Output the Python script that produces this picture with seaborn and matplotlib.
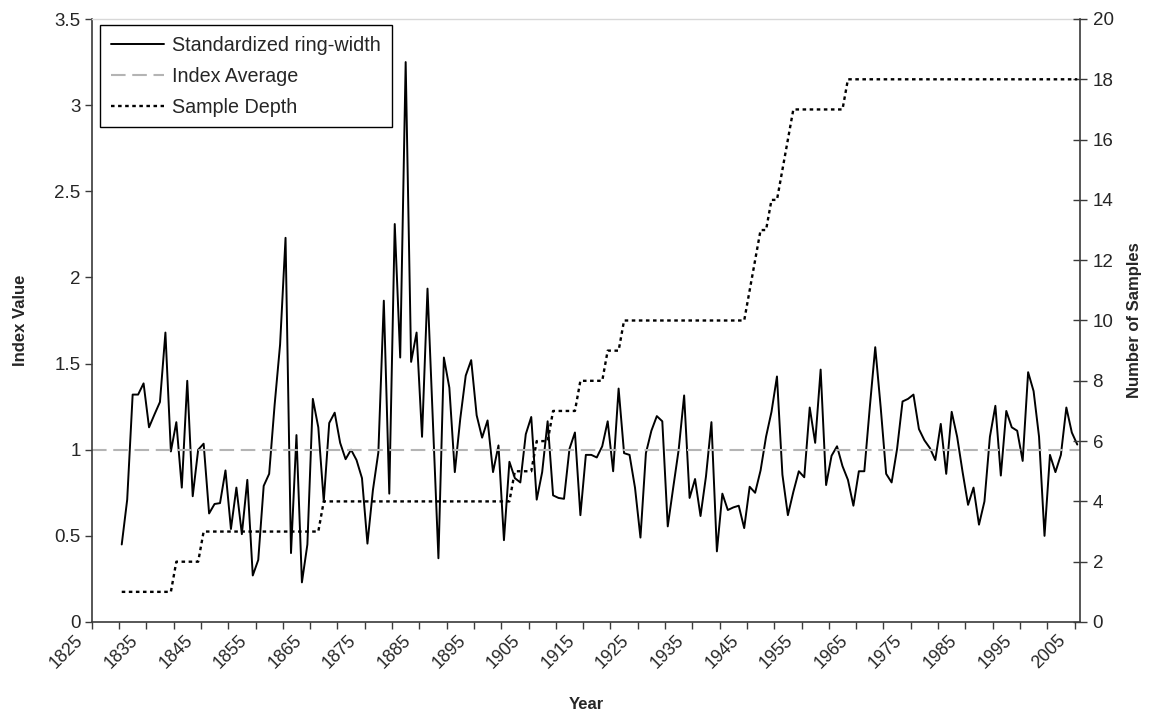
import numpy as np
import pandas as pd
import matplotlib
matplotlib.use("Agg")
import matplotlib.pyplot as plt
import matplotlib.transforms as mtransforms
import seaborn as sns

# Annual values, 1830-2005
years = list(range(1830, 2006))

ring_width = [
    # 1830s
    0.45, 0.71, 1.32, 1.32, 1.385, 1.13, 1.205, 1.277, 1.68, 0.99,
    # 1840s
    1.16, 0.78, 1.40, 0.73, 1.00, 1.035, 0.63, 0.685, 0.69, 0.88,
    # 1850s
    0.54, 0.78, 0.51, 0.825, 0.27, 0.36, 0.79, 0.86, 1.26, 1.61,
    # 1860s
    2.23, 0.40, 1.085, 0.23, 0.45, 1.295, 1.13, 0.70, 1.155, 1.215,
    # 1870s
    1.04, 0.945, 1.00, 0.94, 0.835, 0.455, 0.765, 0.985, 1.865, 0.745,
    # 1880s
    2.31, 1.535, 3.25, 1.51, 1.68, 1.075, 1.935, 1.15, 0.37, 1.535,
    # 1890s
    1.36, 0.87, 1.18, 1.43, 1.52, 1.20, 1.07, 1.17, 0.87, 1.025,
    # 1900s
    0.475, 0.93, 0.835, 0.81, 1.09, 1.19, 0.71, 0.87, 1.165, 0.735,
    # 1910s
    0.72, 0.715, 1.005, 1.10, 0.62, 0.97, 0.97, 0.955, 1.02, 1.165,
    # 1920s
    0.875, 1.355, 0.98, 0.97, 0.78, 0.49, 0.98, 1.11, 1.195, 1.165,
    # 1930s
    0.555, 0.78, 1.00, 1.315, 0.72, 0.83, 0.615, 0.845, 1.16, 0.41,
    # 1940s
    0.745, 0.65, 0.665, 0.675, 0.545, 0.785, 0.75, 0.88, 1.075, 1.22,
    # 1950s
    1.425, 0.855, 0.62, 0.755, 0.875, 0.84, 1.245, 1.04, 1.465, 0.795,
    # 1960s
    0.965, 1.02, 0.905, 0.825, 0.675, 0.875, 0.875, 1.245, 1.595, 1.245,
    # 1970s
    0.86, 0.81, 1.005, 1.28, 1.295, 1.32, 1.12, 1.055, 1.01, 0.94,
    # 1980s
    1.15, 0.86, 1.22, 1.075, 0.87, 0.68, 0.78, 0.565, 0.70, 1.075,
    # 1990s
    1.255, 0.85, 1.225, 1.13, 1.11, 0.935, 1.45, 1.34, 1.075, 0.50,
    # 2000s
    0.97, 0.87, 0.97, 1.245, 1.10, 1.03,
]

sample_depth = (
    [1] * 10 + [2] * 5 + [3] * 22 + [4] * 35 + [5] * 4 + [6] * 3 + [7] * 5
    + [8] * 5 + [9] * 3 + [10] * 23 + [11, 12, 13, 13, 14, 14, 15, 16]
    + [17] * 10 + [18] * 43
)

index_average = 1.0

left_ticks = [0, 0.5, 1, 1.5, 2, 2.5, 3, 3.5]
left_tick_labels = ["0", "0.5", "1", "1.5", "2", "2.5", "3", "3.5"]
right_ticks = list(range(0, 21, 2))
tick_years = list(range(1825, 2006, 5))
label_years = list(range(1825, 2006, 10))

df = pd.DataFrame({"Year": years, "Index": ring_width, "Depth": sample_depth})

sns.set_style("white")
plt.rcParams["font.family"] = ["Liberation Sans", "DejaVu Sans"]

W, H = 1154, 721
fig = plt.figure(figsize=(W / 100, H / 100), dpi=100)
x0, x1, y_top, y_bot = 91.7, 1080, 19, 622
ax = fig.add_axes([x0 / W, 1 - y_bot / H, (x1 - x0) / W, (y_bot - y_top) / H])
ax2 = ax.twinx()

axis_grey = "#3a3a3a"

sns.lineplot(data=df, x="Year", y="Index", ax=ax, color="black",
             linewidth=1.4, label="Standardized ring-width", legend=False)
avg_line = ax.axhline(index_average, color="#b4b4b4", linewidth=1.5,
                      dashes=(7.0, 3.2), label="Index Average")
sns.lineplot(data=df, x="Year", y="Depth", ax=ax2, color="black",
             linewidth=1.7, label="Sample Depth", legend=False)
depth_line = ax2.get_lines()[0]
depth_line.set_dashes((1.5, 1.5))
depth_line.set_dash_capstyle("butt")

# Axis ranges and ticks (category boundaries sit half a year before each year)
ax.set_xlim(1824.5, 2005.5)
ax.set_ylim(0, 3.5)
ax2.set_ylim(0, 20)
ax.set_yticks(left_ticks)
ax.set_yticklabels(left_tick_labels)
ax2.set_yticks(right_ticks)
ax2.set_yticklabels([str(t) for t in right_ticks])
ax.set_xticks([y - 0.5 for y in tick_years])
ax.set_xticklabels([])

tick_fs = 13.5
# Slanted year labels, ending just left of their tick marks
label_trans = ax.get_xaxis_transform() + mtransforms.ScaledTranslation(
    -17 / 100, -10 / 100, fig.dpi_scale_trans)
for y in label_years:
    ax.text(y - 0.5, 0, str(y), transform=label_trans, rotation=45,
            ha="right", va="top", rotation_mode="anchor", fontsize=12.8)

ax.tick_params(axis="y", direction="out", length=5, width=1, color=axis_grey,
               labelsize=tick_fs, pad=3, left=True)
ax.tick_params(axis="x", direction="out", length=5, width=1, color=axis_grey,
               bottom=True)
ax2.tick_params(axis="y", direction="inout", length=10, width=1, color=axis_grey,
                labelsize=tick_fs, pad=4, right=True)

for a in (ax, ax2):
    for side in ("left", "bottom", "right"):
        a.spines[side].set_color(axis_grey)
        a.spines[side].set_linewidth(1.2)
    a.spines["top"].set_visible(False)
ax.spines["top"].set_visible(True)
ax.spines["top"].set_color("#d8d8d8")
ax.spines["top"].set_linewidth(1.0)
ax.spines["right"].set_visible(False)
ax2.spines["left"].set_visible(False)
ax2.spines["bottom"].set_visible(False)

label_font = dict(fontsize=12, fontweight="bold")
ax.set_xlabel("Year", **label_font)
ax.xaxis.set_label_coords(0.5, -(697 - y_bot) / (y_bot - y_top))
ax.set_ylabel("Index Value", labelpad=19, **label_font)
ax2.set_ylabel("Number of Samples", labelpad=10, **label_font)

# Legend with all three series
handles = [ax.get_lines()[0], avg_line, depth_line]
labels = ["Standardized ring-width", "Index Average", "Sample Depth"]
leg = ax2.legend(handles, labels, loc="upper left",
                 bbox_to_anchor=((100 - x0) / (x1 - x0), 1 - (25 - y_top) / (y_bot - y_top)),
                 frameon=True, fancybox=False, edgecolor="black", framealpha=1,
                 fontsize=14.2, handlelength=2.7, handletextpad=0.4,
                 labelspacing=0.6, borderpad=0.55, borderaxespad=0)
leg.get_frame().set_linewidth(1.0)

fig.savefig("out.png", dpi=100)
